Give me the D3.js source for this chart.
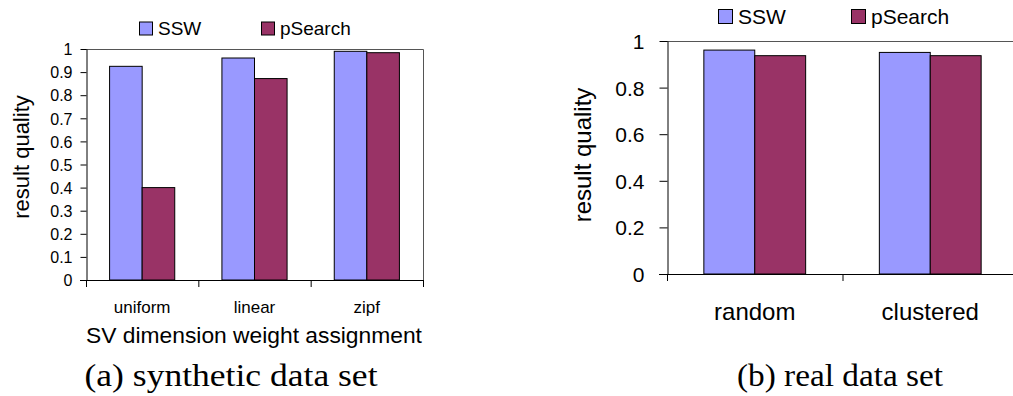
<!DOCTYPE html>
<html>
<head>
<meta charset="utf-8">
<script src="https://cdn.jsdelivr.net/npm/d3@7"></script>
<style>
  body { margin: 0; background: #fff; }
  svg { display: block; }
  text { font-family: "Liberation Sans", Arial, sans-serif; fill: #000; }
  .caption { font-family: "Liberation Serif", "Times New Roman", serif; }
</style>
</head>
<body>
<svg id="chart" width="1013" height="396"></svg>
<script>
// series names + colours (Excel-ish palette)
const seriesNames = ['SSW', 'pSearch'];
const seriesColors = ['#9999ff', '#993366'];

// (a) synthetic data set
const synthCategories = ['uniform', 'linear', 'zipf'];
const synthSSW = [0.925, 0.961, 0.99];
const synthPSearch = [0.40, 0.872, 0.984];
const synthTicks = [0, 0.1, 0.2, 0.3, 0.4, 0.5, 0.6, 0.7, 0.8, 0.9, 1];

// (b) real data set
const realCategories = ['random', 'clustered'];
const realSSW = [0.961, 0.951];
const realPSearch = [0.937, 0.937];
const realTicks = [0, 0.2, 0.4, 0.6, 0.8, 1];

const svg = d3.select('#chart');

// one panel = one grouped bar chart
function drawPanel(cfg) {
  const g = svg.append('g');
  const x = d3.scaleBand().domain(cfg.categories).range([cfg.left, cfg.right]).padding(0);
  const x1 = d3.scaleBand().domain(seriesNames).range([0, x.bandwidth()]).paddingInner(0).paddingOuter(0.724);
  const y = d3.scaleLinear().domain([0, 1]).range([cfg.bottom, cfg.top]);
  const values = [cfg.ssw, cfg.psearch];

  // plot frame (top + right)
  g.append('path')
    .attr('d', `M${cfg.left},${cfg.top + 0.5}H${cfg.right + 0.5}V${cfg.bottom}`)
    .attr('fill', 'none').attr('stroke', '#555').attr('stroke-width', 1);

  // bars
  seriesNames.forEach((s, si) => {
    g.selectAll(null)
      .data(cfg.categories)
      .enter().append('rect')
      .attr('x', d => x(d) + x1(s))
      .attr('y', (d, i) => y(values[si][i]))
      .attr('width', x1.bandwidth())
      .attr('height', (d, i) => y(0) - y(values[si][i]))
      .attr('fill', seriesColors[si])
      .attr('stroke', '#000')
      .attr('stroke-width', 1);
  });

  // y axis
  const yAxis = g.append('g')
    .attr('transform', `translate(${cfg.left + 0.5},0)`)
    .call(d3.axisLeft(y).tickValues(cfg.ticks).tickFormat(d3.format('')).tickSize(cfg.tickLen).tickSizeOuter(0).tickPadding(cfg.tickPad));
  yAxis.select('.domain').attr('stroke', '#000');
  yAxis.selectAll('.tick line').attr('stroke', '#000');
  yAxis.selectAll('text').attr('font-size', cfg.tickFont).attr('font-family', '"Liberation Sans", Arial, sans-serif').attr('fill', '#000').attr('dy', '0.36em');

  // x axis line + boundary ticks
  g.append('line')
    .attr('x1', cfg.left - cfg.tickLen).attr('x2', cfg.right)
    .attr('y1', cfg.bottom + 0.5).attr('y2', cfg.bottom + 0.5)
    .attr('stroke', '#000');
  const bounds = cfg.categories.map(d => x(d)).concat([x.range()[1]]);
  g.selectAll(null).data(bounds).enter().append('line')
    .attr('x1', d => d + 0.5).attr('x2', d => d + 0.5)
    .attr('y1', cfg.bottom).attr('y2', cfg.bottom + 7)
    .attr('stroke', '#000');

  // category labels
  g.selectAll(null).data(cfg.categories).enter().append('text')
    .attr('x', d => x(d) + x.bandwidth() / 2)
    .attr('y', cfg.catY)
    .attr('text-anchor', 'middle')
    .attr('font-size', cfg.catFont)
    .text(d => d);

  // y title
  g.append('text')
    .attr('transform', `translate(${cfg.yTitleX},${cfg.yTitleY}) rotate(-90)`)
    .attr('text-anchor', 'middle')
    .attr('font-size', cfg.yTitleFont)
    .text('result quality');

  // x title
  if (cfg.xTitle) {
    g.append('text')
      .attr('x', cfg.xTitleX)
      .attr('y', cfg.xTitleY)
      .attr('text-anchor', 'middle')
      .attr('font-size', cfg.xTitleFont)
      .text(cfg.xTitle);
  }

  // legend
  const leg = g.append('g');
  seriesNames.forEach((s, si) => {
    const lx = cfg.legX[si];
    leg.append('rect')
      .attr('x', lx + 0.5).attr('y', cfg.legY - cfg.legBox / 2 + 0.5)
      .attr('width', cfg.legBox).attr('height', cfg.legBox)
      .attr('fill', seriesColors[si]).attr('stroke', '#000');
    leg.append('text')
      .attr('x', lx + cfg.legBox + 6).attr('y', cfg.legY)
      .attr('dy', '0.36em')
      .attr('font-size', cfg.legFont)
      .text(s);
  });

  // caption
  svg.append('text')
    .attr('class', 'caption')
    .attr('x', cfg.capX).attr('y', 386)
    .attr('text-anchor', 'middle')
    .attr('font-size', 32)
    .attr('textLength', cfg.capLen)
    .attr('lengthAdjust', 'spacingAndGlyphs')
    .text(cfg.caption);
}

drawPanel({
  categories: synthCategories, ssw: synthSSW, psearch: synthPSearch, ticks: synthTicks,
  left: 86, right: 423, top: 49, bottom: 280,
  tickLen: 6, tickPad: 8, tickFont: 16,
  catY: 313, catFont: 17,
  yTitleX: 29, yTitleY: 157, yTitleFont: 22,
  xTitle: 'SV dimension weight assignment', xTitleX: 254, xTitleY: 343, xTitleFont: 22.8,
  legX: [139, 261], legY: 28, legBox: 13, legFont: 19,
  caption: '(a) synthetic data set', capX: 231, capLen: 293
});

drawPanel({
  categories: realCategories, ssw: realSSW, psearch: realPSearch, ticks: realTicks,
  left: 667, right: 1018, top: 41, bottom: 274,
  tickLen: 8, tickPad: 15, tickFont: 21,
  catY: 320, catFont: 24,
  yTitleX: 591, yTitleY: 155, yTitleFont: 24,
  xTitle: null,
  legX: [718, 851], legY: 16, legBox: 14, legFont: 21,
  caption: '(b) real data set', capX: 840, capLen: 206
});
</script>
</body>
</html>
